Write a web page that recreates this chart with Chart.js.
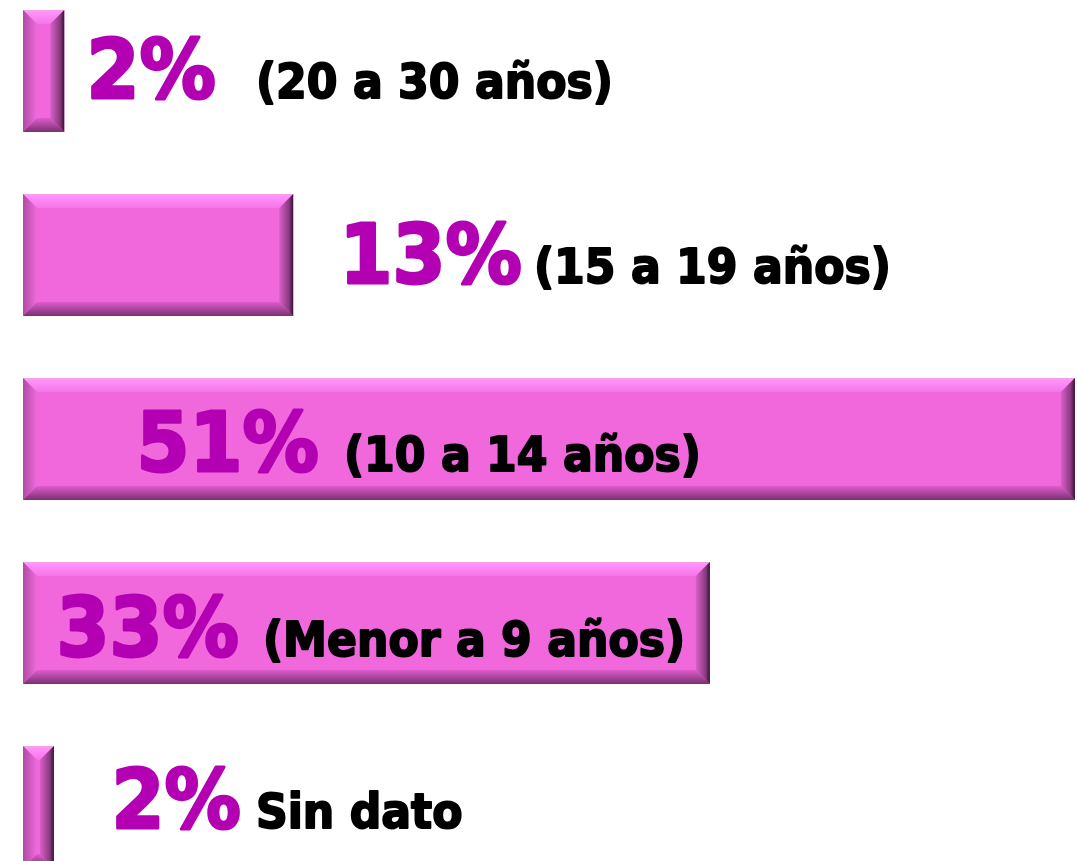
<!DOCTYPE html>
<html>
<head>
<meta charset="utf-8">
<script src="https://cdn.jsdelivr.net/npm/chart.js@4.4.1/dist/chart.umd.min.js"></script>
<style>
  html, body { margin: 0; padding: 0; background: #fff; overflow: hidden; width: 1077px; height: 861px; }
  #wrap { position: absolute; left: 0; top: -21.5px; width: 1077px; height: 920px; }
</style>
</head>
<body>
<div id="wrap"><canvas id="chart"></canvas></div>
<script>
// age groups, top to bottom
const categories = ['(20 a 30 años)', '(15 a 19 años)', '(10 a 14 años)', '(Menor a 9 años)', 'Sin dato'];
const values = [2, 13.1, 51, 33.3, 1.5];
const pctLabels = ['2%', '13%', '51%', '33%', '2%'];

// hand placed label layout (pixels), like the original slide
const pctX = [85, 338, 135, 55, 110];
const textX = [255, 533, 343, 262, 255];
const baseDy = [27, 28, 32, 33, 21];

// draw heavy text: slight horizontal squeeze, thickened with a stroke
function heavyText(ctx, str, x, y, size, sx, weight, color) {
    ctx.save();
    ctx.translate(x, y);
    ctx.scale(sx, 1);
    ctx.font = 'bold ' + size + 'px "DejaVu Sans"';
    ctx.fillStyle = color;
    ctx.strokeStyle = color;
    ctx.lineWidth = weight;
    ctx.lineJoin = 'round';
    ctx.strokeText(str, weight / 2, 0);
    ctx.fillText(str, weight / 2, 0);
    ctx.restore();
}

// bevel effect drawn on top of each bar
const bevelPlugin = {
    id: 'bevel',
    afterDatasetsDraw(chart) {
        const ctx = chart.ctx;
        const meta = chart.getDatasetMeta(0);
        meta.data.forEach(function(bar) {
            const L = Math.min(bar.base, bar.x), R = Math.max(bar.base, bar.x);
            const T = bar.y - bar.height / 2, B = bar.y + bar.height / 2;
            const b = Math.min(14, (R - L) / 2);
            ctx.save();
            let g;
            // top
            g = ctx.createLinearGradient(0, T, 0, T + b);
            g.addColorStop(0, '#f7a0ee');
            g.addColorStop(0.3, '#ff8cfa');
            g.addColorStop(1, '#f476e6');
            ctx.fillStyle = g;
            ctx.beginPath();
            ctx.moveTo(L, T); ctx.lineTo(R, T); ctx.lineTo(R - b, T + b); ctx.lineTo(L + b, T + b); ctx.closePath();
            ctx.fill();
            // left
            g = ctx.createLinearGradient(L, 0, L + b, 0);
            g.addColorStop(0, '#b04aa2');
            g.addColorStop(1, '#f06adc');
            ctx.fillStyle = g;
            ctx.beginPath();
            ctx.moveTo(L, T); ctx.lineTo(L + b, T + b); ctx.lineTo(L + b, B - b); ctx.lineTo(L, B); ctx.closePath();
            ctx.fill();
            // bottom
            g = ctx.createLinearGradient(0, B - b, 0, B);
            g.addColorStop(0, '#de5ccc');
            g.addColorStop(1, '#7a3070');
            ctx.fillStyle = g;
            ctx.beginPath();
            ctx.moveTo(L, B); ctx.lineTo(R, B); ctx.lineTo(R - b, B - b); ctx.lineTo(L + b, B - b); ctx.closePath();
            ctx.fill();
            // right
            g = ctx.createLinearGradient(R - b, 0, R, 0);
            g.addColorStop(0, '#d860c8');
            g.addColorStop(0.7, '#8a3a80');
            g.addColorStop(1, '#3a1034');
            ctx.fillStyle = g;
            ctx.beginPath();
            ctx.moveTo(R, T); ctx.lineTo(R, B); ctx.lineTo(R - b, B - b); ctx.lineTo(R - b, T + b); ctx.closePath();
            ctx.fill();
            ctx.restore();
        });
    },
    afterDraw(chart) {
        const ctx = chart.ctx;
        const meta = chart.getDatasetMeta(0);
        ctx.save();
        ctx.textBaseline = 'alphabetic';
        ctx.textAlign = 'left';
        meta.data.forEach(function(bar, i) {
            const y = bar.y + baseDy[i];
            heavyText(ctx, pctLabels[i], pctX[i], y, 82, 0.93, 3, '#b300b3');
            heavyText(ctx, categories[i], textX[i], y, 48, 0.92, 2, '#000');
        });
        ctx.restore();
    }
};

new Chart(document.getElementById('chart'), {
    type: 'bar',
    data: {
        labels: categories,
        datasets: [{
            data: values,
            backgroundColor: '#f068dc',
            borderWidth: 0,
            barPercentage: 0.663,
            categoryPercentage: 1
        }]
    },
    options: {
        indexAxis: 'y',
        responsive: true,
        maintainAspectRatio: false,
        animation: false,
        layout: { padding: { left: 23, right: 0, top: 0, bottom: 0 } },
        scales: {
            x: { display: false, min: 0, max: 51.1 },
            y: { display: false }
        },
        plugins: {
            legend: { display: false },
            tooltip: { enabled: false }
        }
    },
    plugins: [bevelPlugin]
});
</script>
</body>
</html>
